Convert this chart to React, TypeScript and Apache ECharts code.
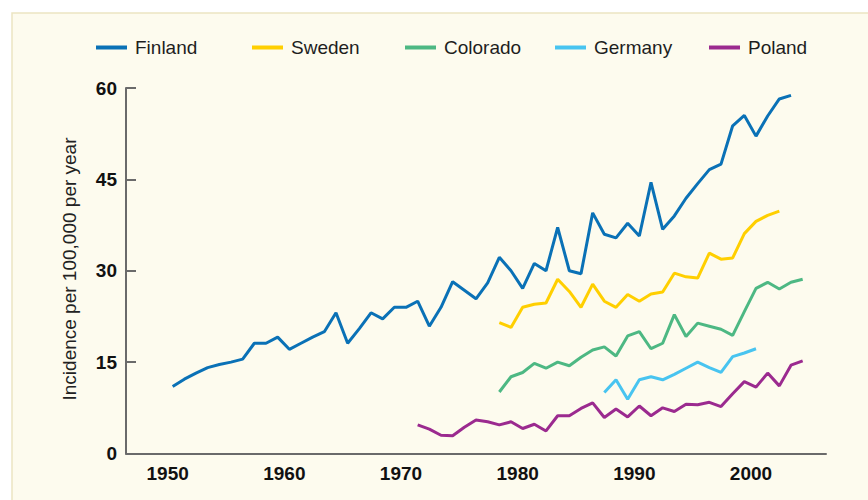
import React, { useEffect, useRef } from "react";
import * as echarts from "echarts";

const seriesNames = ["Finland", "Sweden", "Colorado", "Germany", "Poland"];
const seriesColors = ["#0a71b6", "#ffcf00", "#4db883", "#48c4f0", "#9b2a8f"];
const legendLefts = [96, 252, 405, 555, 709];

const xTickLabels = [1950, 1960, 1970, 1980, 1990, 2000];
const yTicks = [0, 15, 30, 45, 60];

const finland: [number, number][] = [
  [1950, 11.0], [1951, 12.2], [1952, 13.2], [1953, 14.1], [1954, 14.6], [1955, 15.0],
  [1956, 15.5], [1957, 18.1], [1958, 18.1], [1959, 19.1], [1960, 17.1], [1961, 18.1],
  [1962, 19.1], [1963, 20.0], [1964, 23.1], [1965, 18.1], [1966, 20.5], [1967, 23.1],
  [1968, 22.1], [1969, 24.0], [1970, 24.0], [1971, 25.0], [1972, 20.9], [1973, 24.0],
  [1974, 28.2], [1975, 26.8], [1976, 25.4], [1977, 28.0], [1978, 32.2], [1979, 30.0],
  [1980, 27.1], [1981, 31.2], [1982, 30.0], [1983, 37.1], [1984, 30.0], [1985, 29.5],
  [1986, 39.5], [1987, 36.0], [1988, 35.4], [1989, 37.8], [1990, 35.7], [1991, 44.5],
  [1992, 36.8], [1993, 39.0], [1994, 41.9], [1995, 44.3], [1996, 46.6], [1997, 47.5],
  [1998, 53.8], [1999, 55.5], [2000, 52.1], [2001, 55.4], [2002, 58.2], [2003, 58.8],
];

const sweden: [number, number][] = [
  [1978, 21.5], [1979, 20.7], [1980, 24.0], [1981, 24.5], [1982, 24.7], [1983, 28.6],
  [1984, 26.6], [1985, 24.0], [1986, 27.8], [1987, 25.0], [1988, 24.0], [1989, 26.1],
  [1990, 25.0], [1991, 26.2], [1992, 26.5], [1993, 29.6], [1994, 29.0], [1995, 28.8],
  [1996, 32.9], [1997, 31.9], [1998, 32.1], [1999, 36.1], [2000, 38.1], [2001, 39.1],
  [2002, 39.8],
];

const colorado: [number, number][] = [
  [1978, 10.1], [1979, 12.6], [1980, 13.3], [1981, 14.8], [1982, 14.0], [1983, 15.0],
  [1984, 14.4], [1985, 15.8], [1986, 17.0], [1987, 17.5], [1988, 16.0], [1989, 19.3],
  [1990, 20.0], [1991, 17.2], [1992, 18.1], [1993, 22.8], [1994, 19.2], [1995, 21.4],
  [1996, 20.9], [1997, 20.4], [1998, 19.4], [1999, 23.3], [2000, 27.1], [2001, 28.1],
  [2002, 27.0], [2003, 28.1], [2004, 28.6],
];

const germany: [number, number][] = [
  [1987, 10.0], [1988, 12.1], [1989, 8.9], [1990, 12.1], [1991, 12.6], [1992, 12.1],
  [1993, 13.0], [1994, 14.0], [1995, 15.0], [1996, 14.1], [1997, 13.3], [1998, 15.9],
  [1999, 16.5], [2000, 17.2],
];

const poland: [number, number][] = [
  [1971, 4.7], [1972, 4.0], [1973, 3.0], [1974, 2.9], [1975, 4.3], [1976, 5.5],
  [1977, 5.2], [1978, 4.7], [1979, 5.2], [1980, 4.1], [1981, 4.8], [1982, 3.7],
  [1983, 6.2], [1984, 6.2], [1985, 7.4], [1986, 8.3], [1987, 5.9], [1988, 7.3],
  [1989, 6.0], [1990, 7.8], [1991, 6.2], [1992, 7.5], [1993, 6.9], [1994, 8.1],
  [1995, 8.0], [1996, 8.4], [1997, 7.7], [1998, 9.8], [1999, 11.8], [2000, 10.9],
  [2001, 13.2], [2002, 11.1], [2003, 14.5], [2004, 15.2],
];

const allData = [finland, sweden, colorado, germany, poland];
const yAxisTitle = "Incidence per 100,000 per year";

const FONT = '"Liberation Sans", Arial, sans-serif';

export default function App() {
  const ref = useRef<HTMLDivElement>(null);

  useEffect(() => {
    if (!ref.current) return;
    const chart = echarts.init(ref.current, null, { renderer: "svg" });
    const option: any = {
      animation: false,
      backgroundColor: "#ffffff",
      textStyle: { fontFamily: FONT },
      graphic: [
        {
          type: "rect",
          z: -10,
          silent: true,
          shape: { x: 12, y: 13, width: 880, height: 500 },
          style: { fill: "#fdfbee", stroke: "#ece5c2", lineWidth: 1.5 },
        },
        {
          type: "text",
          x: 69,
          y: 269,
          rotation: Math.PI / 2,
          silent: true,
          style: {
            text: yAxisTitle,
            fill: "#222",
            font: `19px ${FONT}`,
            textAlign: "center",
            textVerticalAlign: "middle",
          },
        },
      ],
      legend: seriesNames.map((name, i) => ({
        data: [name],
        left: legendLefts[i],
        top: 37.5,
        padding: 0,
        icon: "rect",
        itemWidth: 31,
        itemHeight: 4,
        selectedMode: false,
        textStyle: {
          fontFamily: FONT,
          fontSize: 19,
          lineHeight: 20,
          color: "#1e1e1e",
          padding: [0, 0, 0, 3],
        },
      })),
      grid: { left: 126, right: 42, top: 88, bottom: 46.5, containLabel: false },
      xAxis: {
        type: "value",
        min: 1946,
        max: 2006,
        axisLine: { show: true, lineStyle: { color: "#6a6a6a", width: 2 } },
        axisTick: { show: false },
        splitLine: { show: false },
        axisLabel: {
          customValues: xTickLabels,
          formatter: (v: number) => String(v),
          fontFamily: FONT,
          fontSize: 19,
          fontWeight: "bold",
          color: "#111",
          margin: 10,
          padding: [0, 10, 0, 0],
        },
      },
      yAxis: {
        type: "value",
        min: 0,
        max: 60,
        interval: 15,
        axisLine: { show: true, lineStyle: { color: "#6a6a6a", width: 2 } },
        axisTick: {
          show: true,
          inside: true,
          length: 10,
          customValues: yTicks,
          lineStyle: { color: "#6a6a6a", width: 2 },
        },
        splitLine: { show: false },
        axisLabel: {
          fontFamily: FONT,
          fontSize: 19,
          fontWeight: "bold",
          color: "#111",
          margin: 9,
        },
      },
      series: seriesNames.map((name, i) => ({
        name,
        type: "line",
        data: allData[i],
        showSymbol: false,
        symbol: "none",
        color: seriesColors[i],
        lineStyle: { color: seriesColors[i], width: 3 },
        itemStyle: { color: seriesColors[i] },
        z: 10 - i,
      })),
    };
    chart.setOption(option);
    return () => chart.dispose();
  }, []);

  return (
    <div
      ref={ref}
      style={{ position: "fixed", left: 0, top: 0, width: 868, height: 500 }}
    />
  );
}
